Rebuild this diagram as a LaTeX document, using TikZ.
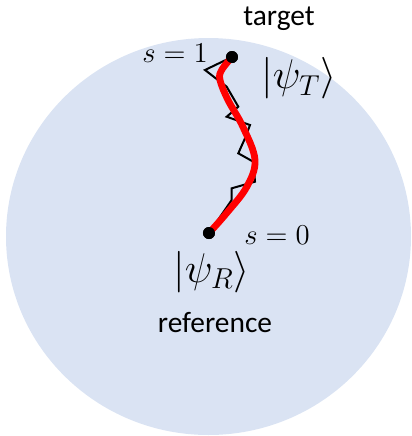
\documentclass[tikz,border=0pt]{standalone}
\usepackage{fontspec}
\setmainfont{Carlito}
\usepackage{tikz}
\usetikzlibrary{positioning}
\definecolor{ballblue}{HTML}{DAE3F3}

\begin{document}
\begin{tikzpicture}[x=0.5pt,y=-0.5pt,
			dot/.style={circle, fill=black, inner sep=0pt, minimum size=6pt},
			word/.style={anchor=base, inner sep=0pt, font=\fontsize{14.7}{16}\selectfont},
			small/.style={anchor=base, inner sep=0pt, font=\fontsize{15.8}{17}\selectfont},
			ket/.style={inner sep=0pt, font=\fontsize{19.5}{21}\selectfont}]
			\useasboundingbox (0,0) rectangle (412,436);
			\fill[ballblue] (208.5,236.5) ellipse [x radius=202.5pt/2, y radius=198.5pt/2];

			\node[dot] (T) at (232,57) {};
			\node[dot] (R) at (209,233) {};

			% discrete steps
			\draw[line width=1pt, line join=miter] (T) -- (205,70) -- (226.7,86.7) -- (238.3,106.7)
				-- (226.7,116.7) -- (250,125) -- (245,138.3) -- (238.3,153.3) -- (253.3,161.7)
				-- (255,181.7) -- (231.7,188.3) -- (231.7,200) -- (R);
			% continuous path
			\draw[red, line width=3.4pt, line cap=round] plot[smooth, tension=0.6] coordinates
				{(232,57) (221.7,70) (220,80) (228,100) (243,127) (255,160) (246.7,187) (226.7,213) (209,233)};
			\node[dot] at (T) {};
			\node[dot] at (R) {};

			\node[word] (tgt) at (279,25) {target};
			\node[small] (s1) at (175,62) {$s=1$};
			\node[ket] (psiT) at (299,78.5) {$|\psi_T\rangle$};
			\node[small] (s0) at (277,244) {$s=0$};
			\node[ket] (psiR) at (211.7,272) {$|\psi_R\rangle$};
			\node[word] (ref) at (215,332) {reference};
		\end{tikzpicture}
\end{document}
